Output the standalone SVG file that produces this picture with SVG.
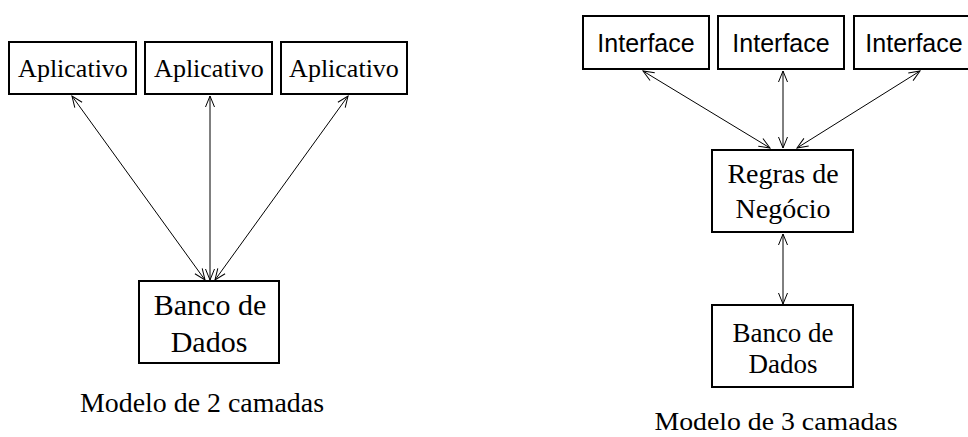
<svg xmlns="http://www.w3.org/2000/svg" width="968" height="437" viewBox="0 0 968 437">
  <defs>
    <marker id="arrow" markerUnits="userSpaceOnUse" markerWidth="14" markerHeight="12" viewBox="-12 -6 14 12" refX="0" refY="0" orient="auto-start-reverse">
      <path d="M -11 -4.5 L 0 0 L -11 4.5" fill="none" stroke="#000" stroke-width="1"/>
    </marker>
    <style>
      .box { fill: #fff; stroke: #000; stroke-width: 2; }
      .serif { font-family: "Liberation Serif", "Times New Roman", serif; fill: #000; text-anchor: middle; }
      .sans { font-family: "Liberation Sans", Arial, sans-serif; fill: #000; text-anchor: middle; }
      .link { stroke: #000; stroke-width: 1; fill: none; marker-start: url(#arrow); marker-end: url(#arrow); }
    </style>
  </defs>
  <rect width="968" height="437" fill="#fff"/>

  <!-- two-tier model -->
  <g id="connectors-2">
    <line class="link" x1="72" y1="96" x2="205" y2="280"/>
    <line class="link" x1="210" y1="96" x2="210" y2="280"/>
    <line class="link" x1="348" y1="96" x2="215" y2="280"/>
  </g>
  <g id="app1">
    <rect class="box" x="9" y="42" width="127" height="52"/>
    <text class="serif" x="73" y="77" font-size="26">Aplicativo</text>
  </g>
  <g id="app2">
    <rect class="box" x="145" y="42" width="127" height="52"/>
    <text class="serif" x="209" y="77" font-size="26">Aplicativo</text>
  </g>
  <g id="app3">
    <rect class="box" x="281" y="42" width="126" height="52"/>
    <text class="serif" x="344" y="77" font-size="26">Aplicativo</text>
  </g>
  <g id="db2">
    <rect class="box" x="139" y="281" width="140" height="82"/>
    <text class="serif" x="210" y="315" font-size="30">Banco de</text>
    <text class="serif" x="209" y="352" font-size="30">Dados</text>
  </g>
  <text id="caption2" class="serif" x="202" y="412" font-size="28" textLength="244" lengthAdjust="spacingAndGlyphs">Modelo de 2 camadas</text>

  <!-- three-tier model -->
  <g id="connectors-3">
    <line class="link" x1="643" y1="71" x2="770" y2="148"/>
    <line class="link" x1="783" y1="71" x2="783" y2="148"/>
    <line class="link" x1="920" y1="71" x2="797" y2="148"/>
    <line class="link" x1="783" y1="234" x2="783" y2="304"/>
  </g>
  <g id="ui1">
    <rect class="box" x="583" y="16" width="126" height="53"/>
    <text class="sans" x="646" y="52" font-size="25">Interface</text>
  </g>
  <g id="ui2">
    <rect class="box" x="718" y="16" width="126" height="53"/>
    <text class="sans" x="781" y="52" font-size="25">Interface</text>
  </g>
  <g id="ui3">
    <rect class="box" x="854" y="16" width="130" height="53"/>
    <text class="sans" x="914" y="52" font-size="25">Interface</text>
  </g>
  <g id="rules">
    <rect class="box" x="712" y="150" width="141" height="82"/>
    <text class="serif" x="783" y="183" font-size="28">Regras de</text>
    <text class="serif" x="783" y="218" font-size="28">Negócio</text>
  </g>
  <g id="db3">
    <rect class="box" x="712" y="305" width="141" height="82"/>
    <text class="serif" x="783" y="342" font-size="27">Banco de</text>
    <text class="serif" x="783" y="373" font-size="27">Dados</text>
  </g>
  <text id="caption3" class="serif" x="776" y="430" font-size="25" textLength="243" lengthAdjust="spacingAndGlyphs">Modelo de 3 camadas</text>
</svg>
